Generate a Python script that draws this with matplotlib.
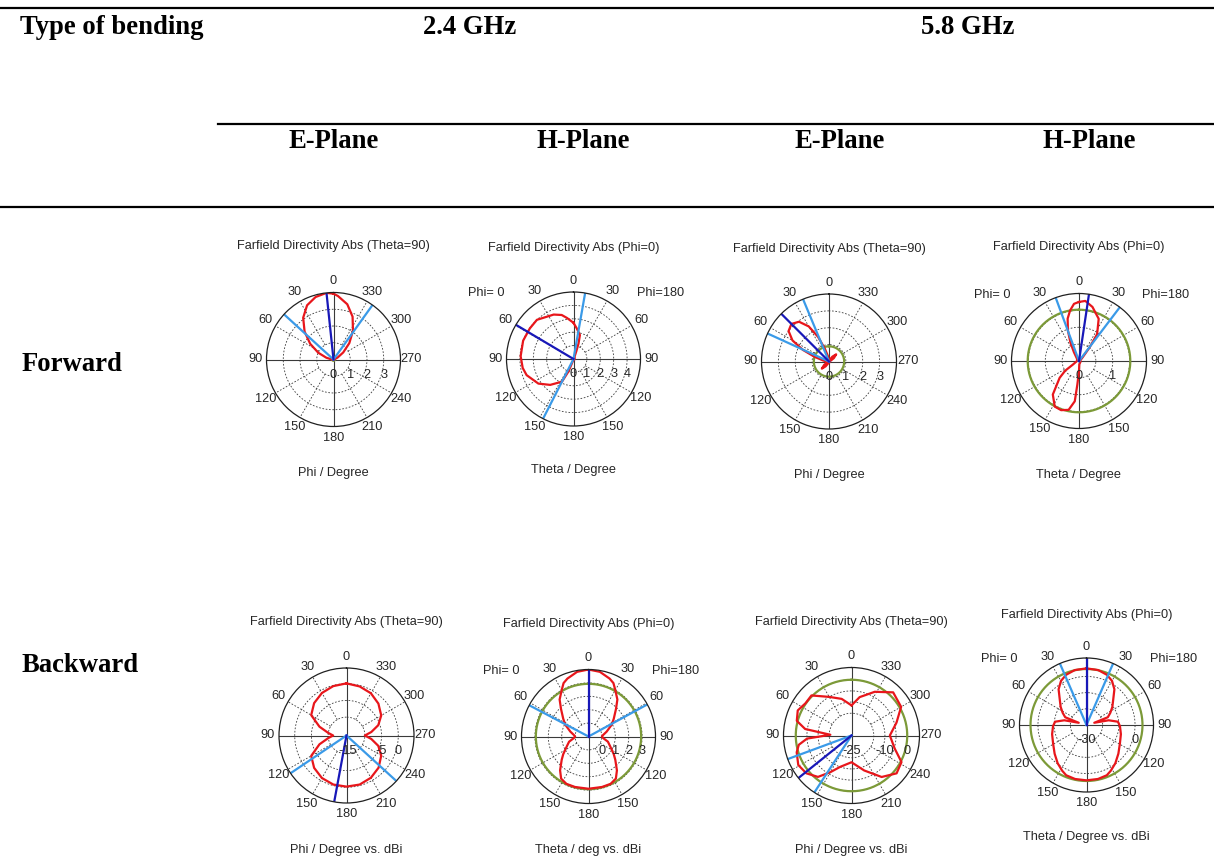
import numpy as np
import matplotlib.pyplot as plt
from matplotlib.lines import Line2D
from matplotlib.transforms import ScaledTranslation

W, H = 1214, 859

# ---- header / row labels ----
freq_labels = ['2.4 GHz', '5.8 GHz']
plane_labels = ['E-Plane', 'H-Plane', 'E-Plane', 'H-Plane']
row_labels = ['Forward', 'Backward']

# angular tick labels (angles counted counter-clockwise from the top)
tick_angles = list(range(0, 360, 30))
e_tick_labels = ['0', '30', '60', '90', '120', '150', '180', '210', '240', '270', '300', '330']
h_tick_labels = ['0', '30', '60', '90', '120', '150', '180', '150', '120', '90', '60', '30']

# ---- Forward, 2.4 GHz, E-plane (linear, 0..4) ----
fwd24_e_ang = [0, 6, 16, 26, 36, 46, 56, 66, 76, 86, 96, 130, 180, 230, 276, 286, 296, 306, 316, 326, 336, 346, 356, 360]
fwd24_e_val = [3.93, 4.0, 3.88, 3.6, 3.08, 2.4, 1.68, 1.0, 0.44, 0.12, 0.02, 0.02, 0.02, 0.02, 0.02, 0.08, 0.28, 0.72, 1.36, 2.08, 2.8, 3.4, 3.8, 3.93]
fwd24_e_main = 6
fwd24_e_bw = [47.6, 324.4]

# ---- Forward, 2.4 GHz, H-plane (linear, 0..5) ----
fwd24_h_ang = [0, 9, 15, 24, 43, 55, 70, 87, 100, 109, 125, 138, 153, 158, 160, 165, 200, 250, 300, 336, 340, 342, 345, 354, 360]
fwd24_h_val = [2.7, 3.1, 3.4, 3.63, 4.0, 3.98, 4.0, 3.95, 3.85, 3.7, 3.2, 2.6, 1.9, 1.0, 0.35, 0.1, 0.08, 0.08, 0.1, 0.2, 0.6, 1.2, 1.85, 2.3, 2.7]
fwd24_h_main = 59.3
fwd24_h_bw = [350.0, 153.0]

# ---- Forward, 5.8 GHz, E-plane (linear, 0..4) ----
fwd58_e_ang = [0, 10, 18, 24, 30, 37, 45, 53, 60, 66, 72, 80, 90, 110, 125, 135, 145, 160, 200, 250, 295, 305, 315, 325, 340, 360]
fwd58_e_val = [0.1, 0.3, 0.8, 1.6, 2.4, 2.95, 3.15, 3.0, 2.5, 1.7, 0.9, 0.35, 0.12, 0.1, 0.35, 0.6, 0.35, 0.1, 0.05, 0.05, 0.1, 0.35, 0.6, 0.35, 0.1, 0.1]
fwd58_e_main = 45
fwd58_e_bw = [22.6, 65.5]
fwd58_e_ref = 0.9

# ---- Forward, 5.8 GHz, H-plane (linear, 0..2) ----
fwd58_h_ang = [0, 5, 10, 15, 20, 25, 30, 40, 80, 120, 125, 131, 142, 152, 160, 168, 174, 176, 180, 185, 240, 300, 315, 322, 326, 335, 346, 354, 360]
fwd58_h_val = [1.75, 1.7, 1.52, 1.3, 0.96, 0.6, 0.3, 0.1, 0.05, 0.2, 0.5, 0.76, 1.26, 1.53, 1.55, 1.48, 1.2, 0.7, 0.3, 0.1, 0.05, 0.05, 0.15, 0.5, 0.96, 1.38, 1.65, 1.79, 1.75]
fwd58_h_main = 351.5
fwd58_h_bw = [20.2, 322.8]
fwd58_h_ref = 1.52

# ---- Backward, 2.4 GHz, E-plane (dBi) ----
bwd24_e_ang = [0, 15, 30, 45, 60, 72, 82, 90, 98, 108, 120, 135, 150, 165, 180, 195, 210, 225, 240, 252, 262, 270, 278, 288, 300, 315, 330, 345, 360]
bwd24_e_val = [0.1, -0.2, -0.8, -1.8, -3.3, -7, -10, -11.5, -10, -7, -3.3, -1.8, -0.8, -0.3, -0.2, -0.3, -0.9, -1.9, -3.5, -5.5, -8, -10, -8, -5.5, -3.5, -2.0, -0.9, -0.3, 0.1]
bwd24_e_main = 169.5
bwd24_e_bw = [124.0, 227.6]

# ---- Backward, 2.4 GHz, H-plane (dBi) ----
bwd24_h_ang = [0, 10, 20, 25, 30, 38, 45, 55, 63, 75, 84, 90, 96, 105, 115, 125, 131, 140, 147, 155, 165, 180,
               195, 205, 213, 220, 229, 235, 245, 255, 264, 270, 276, 285, 297, 305, 315, 322, 330, 335, 340, 350, 360]
bwd24_h_val = [4.0, 3.9, 3.6, 3.4, 3.0, 2.5, 1.9, 1.3, 0.95, 0.4, 0.1, 0.0, 0.1, 0.5, 0.8, 1.3, 1.65, 2.3, 2.75, 2.9, 2.9, 2.9,
               2.9, 2.9, 2.75, 2.3, 1.65, 1.3, 0.8, 0.5, 0.1, 0.0, 0.1, 0.4, 0.95, 1.3, 1.9, 2.5, 3.0, 3.4, 3.6, 3.9, 4.0]
bwd24_h_main = 0
bwd24_h_bw = [62.2, 298.6]
bwd24_h_ref = 2.93

# ---- Backward, 5.8 GHz, E-plane (dBi) ----
bwd58_e_ang = [0, 15, 30, 45, 55, 65, 75, 82, 88, 94, 100, 107, 119, 130, 141, 150, 160, 180, 200, 216, 230, 242, 253, 270, 286, 300, 316, 332, 348, 360]
bwd58_e_val = [-11.5, -8, -5, 0.4, 0.2, 1.6, 0.4, -4, -15.5, -5, -1, 0.7, 2.3, 1.4, -1.1, -6, -10, -13, -8.3, -2, 1.4, 0.4, -4.7, -7.8, -4, 0.7, 1.9, -2.8, -7.4, -11.5]
bwd58_e_main = 128.7
bwd58_e_bw = [110.3, 146.9]
bwd58_e_ref = 0.0

# ---- Backward, 5.8 GHz, H-plane (dBi) ----
bwd58_h_ang = [0, 12, 22, 30, 38, 46, 55, 63, 70, 74, 78, 84, 92, 105, 119, 132, 143, 152, 158, 168, 180,
               192, 202, 208, 217, 228, 241, 255, 268, 276, 282, 286, 290, 297, 305, 314, 322, 330, 338, 348, 360]
bwd58_h_val = [5.0, 4.7, 3.5, 1.5, -2, -7, -10.5, -13.5, -16, -25, -16, -10.5, -9.3, -8, -6.4, -3.5, -0.4, 2, 3.5, 4.1, 4.2,
               4.1, 3.5, 2, -0.4, -3.5, -6.4, -8, -9.3, -10.5, -16, -25, -16, -13.5, -10.5, -7, -2, 1.5, 3.5, 4.7, 5.0]
bwd58_h_main = 0
bwd58_h_bw = [23.4, 336.6]
bwd58_h_ref = 4.6

RED = '#e8161b'
DARK = '#1818b8'
LIGHT = '#3a9ae8'
GREEN = '#7c9a38'
GRID = '#3a3a3a'
TXT = '#262626'
SANS = 'Liberation Sans'
SERIF = 'Liberation Serif'
FS = 9.2

fig = plt.figure(figsize=(W / 100, H / 100), dpi=100)


def fx(x):
    return x / W


def fy(y):
    return 1 - y / H


def polar_panel(cx, cy, R, rlim, rings, rlabels, ang, val, main, bw, ref=None,
                hplane=False, title='', xlabel='', title_y=0, xlabel_y=0):
    ax = fig.add_axes([fx(cx - R), fy(cy + R), 2 * R / W, 2 * R / H], projection='polar')
    ax.set_theta_zero_location('N')
    ax.set_theta_direction(1)
    ax.set_ylim(*rlim)
    ax.grid(False)
    ax.set_xticks([])
    ax.set_yticks([])
    ax.spines['polar'].set_linewidth(0.9)
    ax.spines['polar'].set_color('#202020')
    rmin, rmax = rlim
    th = np.linspace(0, 2 * np.pi, 361)

    # dashed rings and spokes
    for r in rings:
        ax.plot(th, np.full_like(th, r), ls=(0, (2, 2)), lw=0.6, color=GRID)
    for a in tick_angles:
        t = np.deg2rad(a)
        if a % 90 == 0:
            ax.plot([t, t], [rmin, rmax], color=GRID, lw=0.8)
        else:
            ax.plot([t, t], [rings[0], rmax], ls=(0, (2, 2)), lw=0.6, color=GRID)

    if ref is not None:
        ax.plot(th, np.full_like(th, ref), color=GREEN, lw=1.6)

    ax.plot(np.deg2rad(ang), val, color=RED, lw=1.6)
    for a in bw:
        ax.plot([np.deg2rad(a)] * 2, [rmin, rmax], color=LIGHT, lw=1.6)
    ax.plot([np.deg2rad(main)] * 2, [rmin, rmax], color=DARK, lw=1.6)

    labels = h_tick_labels if hplane else e_tick_labels
    for a, lab in zip(tick_angles, labels):
        ax.text(np.deg2rad(a), rmax + 0.165 * (rmax - rmin), lab, ha='center', va='center',
                fontsize=FS, family=SANS, color=TXT)

    off = ax.transData + ScaledTranslation(0, -15 / 100, fig.dpi_scale_trans)
    for r, lab in rlabels:
        ax.text(np.deg2rad(270), r, lab, transform=off, ha='center', va='center',
                fontsize=FS, family=SANS, color=TXT)

    if hplane:
        fig.text(fx(cx - 87), fy(cy - 66), 'Phi= 0', ha='center', va='center', fontsize=FS, family=SANS, color=TXT)
        fig.text(fx(cx + 87), fy(cy - 66), 'Phi=180', ha='center', va='center', fontsize=FS, family=SANS, color=TXT)

    fig.text(fx(cx), fy(title_y), title, ha='center', va='center', fontsize=9.2, family=SANS, color=TXT)
    fig.text(fx(cx), fy(xlabel_y), xlabel, ha='center', va='center', fontsize=9.2, family=SANS, color=TXT)
    return ax


t_e = 'Farfield Directivity Abs (Theta=90)'
t_h = 'Farfield Directivity Abs (Phi=0)'

polar_panel(333.5, 359.5, 67, (0, 4), [1, 2, 3], [(0, '0'), (1, '1'), (2, '2'), (3, '3')],
            fwd24_e_ang, fwd24_e_val, fwd24_e_main, fwd24_e_bw, ref=0.08,
            title=t_e, xlabel='Phi / Degree', title_y=246, xlabel_y=473)
polar_panel(573.5, 359, 67, (0, 5), [1, 2, 3, 4], [(0, '0'), (1, '1'), (2, '2'), (3, '3'), (4, '4')],
            fwd24_h_ang, fwd24_h_val, fwd24_h_main, fwd24_h_bw, hplane=True,
            title=t_h, xlabel='Theta / Degree', title_y=248, xlabel_y=470)
polar_panel(829, 361.5, 67.5, (0, 4), [1, 2, 3], [(0, '0'), (1, '1'), (2, '2'), (3, '3')],
            fwd58_e_ang, fwd58_e_val, fwd58_e_main, fwd58_e_bw, ref=fwd58_e_ref,
            title=t_e, xlabel='Phi / Degree', title_y=249, xlabel_y=475)
polar_panel(1079, 361, 67.5, (0, 2), [0.5, 1, 1.5], [(0, '0'), (1, '1')],
            fwd58_h_ang, fwd58_h_val, fwd58_h_main, fwd58_h_bw, ref=fwd58_h_ref, hplane=True,
            title=t_h, xlabel='Theta / Degree', title_y=247, xlabel_y=475)

polar_panel(346.5, 735.5, 67.5, (-15.5, 4.7), [-10, -5, 0], [(-15, '-15'), (-5, '-5'), (0, '0')],
            bwd24_e_ang, bwd24_e_val, bwd24_e_main, bwd24_e_bw,
            title=t_e, xlabel='Phi / Degree vs. dBi', title_y=621.5, xlabel_y=850)
polar_panel(588.5, 736.5, 67, (-1, 4), [0, 1, 2, 3], [(0, '0'), (1, '1'), (2, '2'), (3, '3')],
            bwd24_h_ang, bwd24_h_val, bwd24_h_main, bwd24_h_bw, ref=bwd24_h_ref, hplane=True,
            title=t_h, xlabel='Theta / deg vs. dBi', title_y=624, xlabel_y=850)
polar_panel(851.5, 735.5, 68, (-25, 5.5), [-15, -10, -5, 0], [(-25, '-25'), (-10, '-10'), (0, '0')],
            bwd58_e_ang, bwd58_e_val, bwd58_e_main, bwd58_e_bw, ref=bwd58_e_ref,
            title=t_e, xlabel='Phi / Degree vs. dBi', title_y=621.5, xlabel_y=850)
polar_panel(1086.5, 725, 67, (-30, 11.4), [-20, -10, 0], [(-30, '-30'), (0, '0')],
            bwd58_h_ang, bwd58_h_val, bwd58_h_main, bwd58_h_bw, ref=bwd58_h_ref, hplane=True,
            title=t_h, xlabel='Theta / Degree vs. dBi', title_y=615, xlabel_y=837)

# ---- table rules ----
for x0, x1, y in [(0, W, 8), (218, W, 124), (0, W, 207)]:
    fig.add_artist(Line2D([fx(x0), fx(x1)], [fy(y), fy(y)], color='black', lw=1.6))

hdr = dict(family=SERIF, weight='bold', fontsize=19.2, va='center', color='black')
fig.text(fx(20), fy(27), 'Type of bending', ha='left', **hdr)
for x, s in zip([470, 968], freq_labels):
    fig.text(fx(x), fy(27), s, ha='center', **hdr)
for x, s in zip([334, 583, 840, 1089], plane_labels):
    fig.text(fx(x), fy(142), s, ha='center', **hdr)
for y, s in zip([364, 665], row_labels):
    fig.text(fx(22), fy(y), s, ha='left', **hdr)

fig.savefig('out.png', dpi=100)
